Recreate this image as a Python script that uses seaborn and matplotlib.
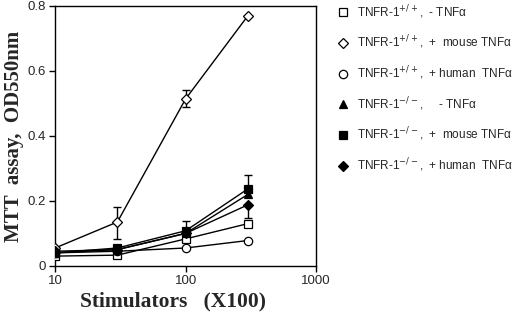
import numpy as np
import pandas as pd
import seaborn as sns
import matplotlib.pyplot as plt

sns.set_theme(style="ticks")
plt.rcParams['font.family'] = ['Liberation Sans', 'DejaVu Sans']
plt.rcParams['mathtext.fontset'] = 'dejavusans'

stimulators = [10, 30, 100, 300]
labels = [
    r'TNFR-1$^{+/+}$,  - TNFα',
    r'TNFR-1$^{+/+}$,  +  mouse TNFα',
    r'TNFR-1$^{+/+}$,  + human  TNFα',
    r'TNFR-1$^{-/-}$,     - TNFα',
    r'TNFR-1$^{-/-}$,  +  mouse TNFα',
    r'TNFR-1$^{-/-}$,  + human  TNFα',
]
wt_none = [0.030, 0.033, 0.083, 0.130]
wt_mouse = [0.055, 0.135, 0.514, 0.770]
wt_human = [0.040, 0.045, 0.055, 0.078]
ko_none = [0.040, 0.050, 0.100, 0.220]
ko_mouse = [0.040, 0.055, 0.108, 0.237]
ko_human = [0.045, 0.050, 0.100, 0.188]
# error bars (lower, upper)
wt_mouse_err = [[0, 0.052, 0.024, 0], [0, 0.045, 0.026, 0]]
ko_mouse_err = [[0, 0, 0, 0], [0, 0, 0.030, 0.043]]
ko_human_err = [[0, 0, 0, 0.040], [0, 0, 0, 0]]

series = [wt_none, wt_mouse, wt_human, ko_none, ko_mouse, ko_human]
errors = [None, wt_mouse_err, None, None, ko_mouse_err, ko_human_err]
markers = ['s', 'D', 'o', '^', 's', 'D']
filled = [False, False, False, True, True, True]
sizes = [5.5, 5, 6, 5.5, 5.5, 5]

fig = plt.figure(figsize=(5.2, 3.15), dpi=100)
ax = fig.add_axes([0.106, 0.156, 0.502, 0.825])

for lab, vals, err, m, f, s in zip(labels, series, errors, markers, filled, sizes):
    df = pd.DataFrame({'x': stimulators, 'y': vals})
    if err is not None:
        ax.errorbar(df['x'], df['y'], yerr=np.array(err), fmt='none',
                    ecolor='black', elinewidth=1, capsize=3, capthick=1, zorder=2)
    sns.lineplot(data=df, x='x', y='y', ax=ax, color='black', lw=1,
                 marker=m, markersize=s, markeredgecolor='black',
                 markeredgewidth=0.9,
                 markerfacecolor='black' if f else 'white',
                 label=lab, zorder=3)

ax.set_xscale('log')
ax.set_xlim(10, 1000)
ax.set_ylim(0, 0.8)
ax.set_xticks([10, 100, 1000])
ax.set_xticklabels(['10', '100', '1000'])
ax.minorticks_off()
ax.set_yticks([0, 0.2, 0.4, 0.6, 0.8])
ax.set_yticklabels(['0', '0.2', '0.4', '0.6', '0.8'])
ax.tick_params(axis='both', direction='out', length=4.5, width=1, labelsize=9.5,
               color='black', pad=2)
for sp in ax.spines.values():
    sp.set_color('black')
    sp.set_linewidth(1)

ax.set_xlabel('Stimulators   (X100)', family='Liberation Serif', fontweight='bold',
              fontsize=15.5, labelpad=2)
ax.xaxis.set_label_coords(0.452, -0.097, transform=ax.transAxes)
ax.xaxis.label.set_va('top')
ax.set_ylabel('MTT  assay,  OD550nm', family='Liberation Serif', fontweight='bold',
              fontsize=15, labelpad=3)

ax.legend(loc='upper left', bbox_to_anchor=(1.066, 1.03), frameon=False,
          fontsize=8.5, handlelength=0.8, handletextpad=0.8, labelspacing=1.11,
          borderaxespad=0)
for h in ax.get_legend().legend_handles:
    h.set_linestyle('none')

fig.savefig('out.png', dpi=100)
